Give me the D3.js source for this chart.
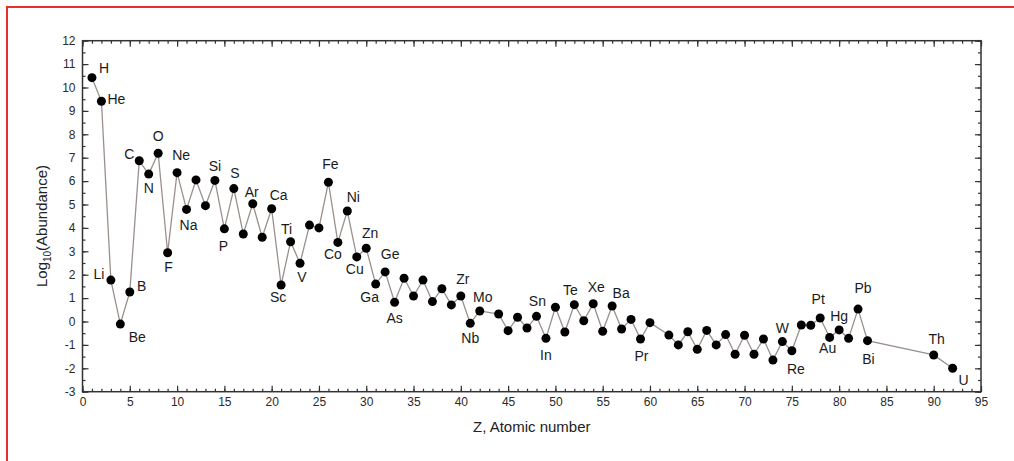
<!DOCTYPE html>
<html>
<head>
<meta charset="utf-8">
<script src="https://cdn.jsdelivr.net/npm/d3@7"></script>
<style>
  body { margin: 0; background: #fff; }
  svg { display: block; font-family: Arial, "Liberation Sans", Helvetica, sans-serif; }
  .tick text { fill: #2a2a2a; font-size: 12px; }
  .elem { fill: #1a1a1a; font-size: 14px; }
</style>
</head>
<body>
<script>
// atomic number (Z) of every plotted element
var atomicNumbers = [1,2,3,4,5,6,7,8,9,10,11,12,13,14,15,16,17,18,19,20,
  21,22,23,24,25,26,27,28,29,30,31,32,33,34,35,36,37,38,39,40,41,42,
  44,45,46,47,48,49,50,51,52,53,54,55,56,57,58,59,60,
  62,63,64,65,66,67,68,69,70,71,72,73,74,75,76,77,78,79,80,81,82,83,90,92];
// log10 abundance
var logAbundance = [10.42,9.41,1.77,-0.11,1.26,6.87,6.30,7.19,2.94,6.36,4.79,6.05,4.95,6.03,3.96,5.68,3.74,5.03,3.60,4.82,
  1.56,3.41,2.49,4.12,4.00,5.95,3.38,4.72,2.76,3.13,1.60,2.12,0.82,1.85,1.09,1.77,0.85,1.40,0.71,1.09,-0.08,0.45,
  0.32,-0.39,0.18,-0.28,0.22,-0.72,0.61,-0.45,0.72,0.03,0.76,-0.42,0.66,-0.32,0.09,-0.75,-0.05,
  -0.58,-1.00,-0.44,-1.19,-0.38,-1.00,-0.56,-1.40,-0.59,-1.40,-0.75,-1.65,-0.86,-1.25,-0.15,-0.16,0.15,-0.68,-0.36,-0.72,0.53,-0.82,-1.43,-2.00];
// element symbols that carry a label
var labelZ = [1,2,3,4,5,6,7,8,9,10,11,14,15,16,18,20,21,22,23,26,27,28,29,30,31,32,33,40,41,42,
  49,50,52,54,56,59,74,75,78,79,80,82,83,90,92];
var labelSymbols = ["H","He","Li","Be","B","C","N","O","F","Ne","Na","Si","P","S","Ar","Ca","Sc","Ti","V","Fe","Co","Ni","Cu","Zn","Ga","Ge","As","Zr","Nb","Mo",
  "In","Sn","Te","Xe","Ba","Pr","W","Re","Pt","Au","Hg","Pb","Bi","Th","U"];
var xTicks = d3.range(0, 96, 5);
var yTicks = d3.range(-3, 13, 1);

// where each label sits relative to its point (px)
var labelOffset = {
  H:[12,-10], He:[15,-2], Li:[-12,-6], Be:[17,13], B:[12,-6], C:[-10,-7], N:[0,14], O:[0,-17],
  F:[1,14], Ne:[4,-18], Na:[2,16], Si:[0,-14], P:[-1,17], S:[1,-15], Ar:[-1,-12], Ca:[7,-14],
  Sc:[-3,12], Ti:[-4,-13], V:[2,14], Fe:[2,-18], Co:[-5,12], Ni:[6,-14], Cu:[-2,12], Zn:[4,-15],
  Ga:[-6,13], Ge:[5,-18], As:[0,16], Zr:[2,-17], Nb:[0,15], Mo:[3,-14], In:[0,17], Sn:[-18,-6],
  Te:[-4,-15], Xe:[3,-17], Ba:[9,-13], Pr:[1,17], W:[0,-14], Re:[4,18], Pt:[-2,-19], Au:[-2,11],
  Hg:[0,-14], Pb:[5,-21], Bi:[1,18], Th:[3,-16], U:[11,12]
};

var width = 1014, height = 461;
var margin = {left: 82.5, top: 40.7, right: 33, bottom: 69.3};
var w = width - margin.left - margin.right,
    h = height - margin.top - margin.bottom;

var svg = d3.select("body").append("svg")
  .attr("width", width)
  .attr("height", height);

// red page border (top + left)
svg.append("path")
  .attr("d", "M7,461 L7,7 L1014,7")
  .attr("fill", "none")
  .attr("stroke", "#e8302a")
  .attr("stroke-width", 2);

var g = svg.append("g")
  .attr("transform", "translate(" + margin.left + "," + margin.top + ")");

var x = d3.scaleLinear().domain([0, 95]).range([0, w]);
var y = d3.scaleLinear().domain([-3, 12]).range([h, 0]);

var data = atomicNumbers.map(function(z, i) { return {z: z, v: logAbundance[i]}; });

// plain hyphen minus like the original
var fmt = function(d) { return String(d); };

// axes, ticks pointing inward on all four sides
function styleAxis(sel) {
  sel.select(".domain").remove();
  sel.selectAll(".tick line").attr("stroke", "#333").attr("stroke-width", 1.2);
}
g.append("g").attr("transform", "translate(0," + h + ")")
  .call(d3.axisBottom(x).tickValues(xTicks).tickSize(-6).tickPadding(6).tickFormat(fmt))
  .call(styleAxis);
g.append("g").attr("transform", "translate(0," + h + ")")
  .call(d3.axisBottom(x).tickValues(d3.range(0, 96, 1)).tickSize(-3).tickFormat(""))
  .call(styleAxis);
g.append("g")
  .call(d3.axisTop(x).tickValues(xTicks).tickSize(-6).tickFormat(""))
  .call(styleAxis);
g.append("g")
  .call(d3.axisTop(x).tickValues(d3.range(0, 96, 1)).tickSize(-3).tickFormat(""))
  .call(styleAxis);
g.append("g")
  .call(d3.axisLeft(y).tickValues(yTicks).tickSize(-6).tickPadding(7).tickFormat(fmt))
  .call(styleAxis);
g.append("g")
  .call(d3.axisLeft(y).tickValues(d3.range(-3, 12.5, 0.5)).tickSize(-3).tickFormat(""))
  .call(styleAxis);
g.append("g").attr("transform", "translate(" + w + ",0)")
  .call(d3.axisRight(y).tickValues(yTicks).tickSize(-6).tickFormat(""))
  .call(styleAxis);
g.append("g").attr("transform", "translate(" + w + ",0)")
  .call(d3.axisRight(y).tickValues(d3.range(-3, 12.5, 0.5)).tickSize(-3).tickFormat(""))
  .call(styleAxis);

g.selectAll(".tick text").attr("font-family", null).attr("font-size", null);

// frame
g.append("rect")
  .attr("width", w).attr("height", h)
  .attr("fill", "none")
  .attr("stroke", "#333")
  .attr("stroke-width", 1.5);

// connecting line
var line = d3.line()
  .x(function(d) { return x(d.z); })
  .y(function(d) { return y(d.v); });

g.append("path")
  .datum(data)
  .attr("fill", "none")
  .attr("stroke", "#9a908c")
  .attr("stroke-width", 1.3)
  .attr("d", line);

g.selectAll(".dot")
  .data(data)
  .enter().append("circle")
  .attr("class", "dot")
  .attr("cx", function(d) { return x(d.z); })
  .attr("cy", function(d) { return y(d.v); })
  .attr("r", 4.5)
  .attr("fill", "#000");

// element labels
var labels = labelZ.map(function(z, i) {
  var d = data.find(function(p) { return p.z == z; });
  return {z: z, v: d.v, sym: labelSymbols[i]};
});
g.selectAll(".elem")
  .data(labels)
  .enter().append("text")
  .attr("class", "elem")
  .attr("x", function(d) { return x(d.z) + labelOffset[d.sym][0]; })
  .attr("y", function(d) { return y(d.v) + labelOffset[d.sym][1]; })
  .attr("dy", "0.35em")
  .attr("text-anchor", "middle")
  .text(function(d) { return d.sym; });

// axis titles
g.append("text")
  .attr("x", w / 2)
  .attr("y", h + 35)
  .attr("dy", "0.35em")
  .attr("text-anchor", "middle")
  .attr("font-size", "15px")
  .attr("fill", "#222")
  .text("Z, Atomic number");

var yt = svg.append("text")
  .attr("transform", "translate(42,226) rotate(-90)")
  .attr("text-anchor", "middle")
  .attr("dy", "0.35em")
  .attr("font-size", "15px")
  .attr("fill", "#222");
yt.append("tspan").text("Log");
yt.append("tspan").attr("font-size", "10px").attr("dy", "4").text("10");
yt.append("tspan").attr("dy", "-4").text("(Abundance)");
</script>
</body>
</html>
